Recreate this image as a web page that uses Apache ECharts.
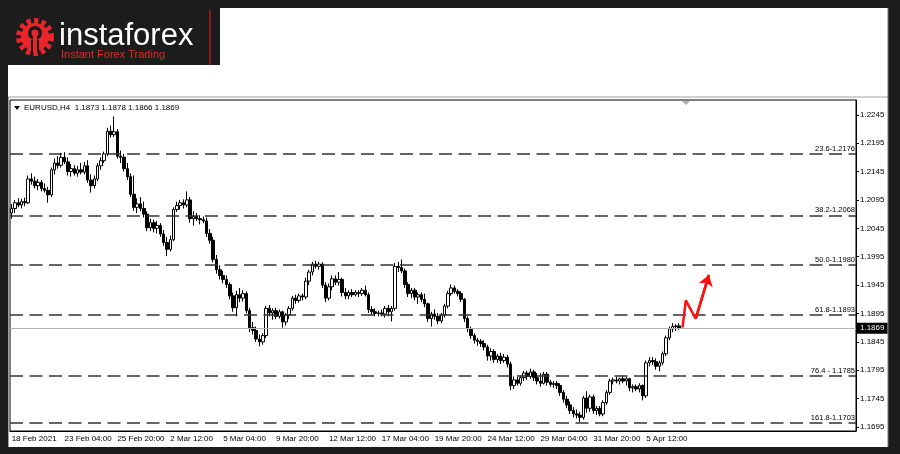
<!DOCTYPE html>
<html>
<head>
<meta charset="utf-8">
<script src="https://cdn.jsdelivr.net/npm/echarts@6/dist/echarts.min.js"></script>
<style>
html,body{margin:0;padding:0;background:#1c1c1c;}
#c{width:900px;height:454px;}
</style>
</head>
<body>
<div id="c"></div>
<script>
// ---------- data ----------
const symbolTitle = 'EURUSD,H4';
const headerQuote = ['1.1873', '1.1878', '1.1866', '1.1869'];
const timeTickLabels = ['18 Feb 2021', '23 Feb 04:00', '25 Feb 20:00', '2 Mar 12:00', '5 Mar 04:00',
  '9 Mar 20:00', '12 Mar 12:00', '17 Mar 04:00', '19 Mar 20:00', '24 Mar 12:00',
  '29 Mar 04:00', '31 Mar 20:00', '5 Apr 12:00'];
const barsPerTick = 16;
const totalSlots = 256;
const priceTicks = [1.1695, 1.1745, 1.1795, 1.1845, 1.1895, 1.1945, 1.1995, 1.2045, 1.2095, 1.2145, 1.2195, 1.2245];
const fibPrices = [1.2176, 1.2068, 1.1980, 1.1893, 1.1785, 1.1703];
const fibLabels = ['23.6-1.2176', '38.2-1.2068', '50.0-1.1980', '61.8-1.1893', '76.4 - 1.1785', '161.8-1.1703'];
const lastPrice = 1.1869;
const forecastX = [203, 204, 207, 211];
const forecastY = [1.1870, 1.1918, 1.1886, 1.1963];
// each row: open, high, low, close
const candles = [
[1.2072,1.2088,1.2062,1.2080],[1.2080,1.2095,1.2072,1.2090],[1.2090,1.2098,1.2082,1.2086],[1.2086,1.2097,1.2080,1.2092],
[1.2092,1.2099,1.2084,1.2090],[1.2090,1.2138,1.2088,1.2132],[1.2132,1.2142,1.2122,1.2128],[1.2128,1.2136,1.2115,1.2120],
[1.2120,1.2132,1.2112,1.2126],[1.2126,1.2130,1.2110,1.2115],[1.2115,1.2124,1.2108,1.2112],[1.2112,1.2118,1.2090,1.2104],
[1.2104,1.2152,1.2100,1.2148],[1.2148,1.2168,1.2140,1.2160],[1.2160,1.2172,1.2150,1.2156],[1.2156,1.2178,1.2152,1.2170],
[1.2170,1.2179,1.2158,1.2162],[1.2162,1.2170,1.2138,1.2145],[1.2145,1.2158,1.2136,1.2150],[1.2150,1.2156,1.2138,1.2142],
[1.2142,1.2155,1.2136,1.2148],[1.2148,1.2160,1.2140,1.2144],[1.2144,1.2162,1.2140,1.2155],[1.2155,1.2165,1.2125,1.2130],
[1.2130,1.2140,1.2108,1.2120],[1.2120,1.2138,1.2115,1.2132],[1.2132,1.2160,1.2128,1.2155],[1.2155,1.2170,1.2148,1.2164],
[1.2164,1.2180,1.2160,1.2176],[1.2176,1.2222,1.2172,1.2216],[1.2216,1.2226,1.2205,1.2210],[1.2210,1.2242,1.2206,1.2215],
[1.2215,1.2220,1.2168,1.2172],[1.2172,1.2182,1.2160,1.2170],[1.2170,1.2176,1.2145,1.2150],[1.2150,1.2160,1.2130,1.2136],
[1.2136,1.2142,1.2100,1.2105],[1.2105,1.2138,1.2076,1.2082],[1.2082,1.2098,1.2072,1.2088],[1.2088,1.2100,1.2075,1.2080],
[1.2080,1.2092,1.2064,1.2070],[1.2070,1.2075,1.2040,1.2046],[1.2046,1.2062,1.2040,1.2055],[1.2055,1.2060,1.2038,1.2045],
[1.2045,1.2058,1.2036,1.2050],[1.2050,1.2054,1.2030,1.2035],[1.2035,1.2042,1.2014,1.2020],[1.2020,1.2030,1.1996,1.2008],
[1.2008,1.2032,1.2004,1.2025],[1.2025,1.2082,1.2022,1.2078],[1.2078,1.2092,1.2074,1.2085],[1.2085,1.2095,1.2078,1.2090],
[1.2090,1.2096,1.2080,1.2086],[1.2086,1.2110,1.2082,1.2095],[1.2095,1.2100,1.2055,1.2062],[1.2062,1.2075,1.2050,1.2066],
[1.2066,1.2072,1.2058,1.2062],[1.2062,1.2068,1.2052,1.2060],[1.2060,1.2066,1.2054,1.2058],[1.2058,1.2064,1.2030,1.2036],
[1.2036,1.2044,1.2018,1.2024],[1.2024,1.2030,1.1985,1.1990],[1.1990,1.1998,1.1965,1.1972],[1.1972,1.1980,1.1955,1.1962],
[1.1962,1.1970,1.1948,1.1955],[1.1955,1.1962,1.1940,1.1946],[1.1946,1.1950,1.1920,1.1926],[1.1926,1.1932,1.1898,1.1905],
[1.1905,1.1935,1.1890,1.1928],[1.1928,1.1940,1.1915,1.1922],[1.1922,1.1936,1.1916,1.1930],[1.1930,1.1934,1.1895,1.1900],
[1.1900,1.1905,1.1862,1.1870],[1.1870,1.1880,1.1858,1.1865],[1.1865,1.1872,1.1845,1.1850],[1.1850,1.1858,1.1837,1.1845],
[1.1845,1.1860,1.1840,1.1856],[1.1856,1.1908,1.1852,1.1904],[1.1904,1.1910,1.1890,1.1896],[1.1896,1.1904,1.1884,1.1900],
[1.1900,1.1905,1.1885,1.1890],[1.1890,1.1902,1.1886,1.1898],[1.1898,1.1900,1.1870,1.1880],[1.1880,1.1896,1.1874,1.1892],
[1.1892,1.1908,1.1885,1.1904],[1.1904,1.1926,1.1900,1.1922],[1.1922,1.1928,1.1912,1.1918],[1.1918,1.1930,1.1914,1.1926],
[1.1926,1.1930,1.1918,1.1924],[1.1924,1.1958,1.1920,1.1952],[1.1952,1.1972,1.1945,1.1968],[1.1968,1.1986,1.1962,1.1982],
[1.1982,1.1988,1.1974,1.1978],[1.1978,1.1986,1.1972,1.1982],[1.1982,1.1985,1.1940,1.1945],[1.1945,1.1950,1.1915,1.1922],
[1.1922,1.1948,1.1918,1.1942],[1.1942,1.1962,1.1936,1.1956],[1.1956,1.1962,1.1945,1.1950],[1.1950,1.1968,1.1944,1.1955],
[1.1955,1.1958,1.1925,1.1932],[1.1932,1.1940,1.1920,1.1926],[1.1926,1.1936,1.1920,1.1932],[1.1932,1.1938,1.1924,1.1928],
[1.1928,1.1936,1.1925,1.1932],[1.1932,1.1936,1.1924,1.1930],[1.1930,1.1940,1.1926,1.1936],[1.1936,1.1944,1.1925,1.1928],
[1.1928,1.1932,1.1896,1.1902],[1.1902,1.1908,1.1892,1.1898],[1.1898,1.1904,1.1890,1.1895],[1.1895,1.1900,1.1890,1.1896],
[1.1896,1.1902,1.1890,1.1894],[1.1894,1.1908,1.1888,1.1904],[1.1904,1.1910,1.1890,1.1898],[1.1898,1.1908,1.1881,1.1904],
[1.1904,1.1984,1.1900,1.1978],[1.1978,1.1986,1.1968,1.1976],[1.1976,1.1990,1.1966,1.1970],[1.1970,1.1974,1.1940,1.1946],
[1.1946,1.1950,1.1924,1.1930],[1.1930,1.1940,1.1922,1.1936],[1.1936,1.1940,1.1918,1.1924],[1.1924,1.1932,1.1912,1.1928],
[1.1928,1.1932,1.1915,1.1920],[1.1920,1.1930,1.1906,1.1912],[1.1912,1.1914,1.1880,1.1886],[1.1886,1.1898,1.1872,1.1894],
[1.1894,1.1902,1.1884,1.1890],[1.1890,1.1896,1.1876,1.1882],[1.1882,1.1896,1.1878,1.1892],[1.1892,1.1912,1.1888,1.1908],
[1.1908,1.1935,1.1904,1.1930],[1.1930,1.1946,1.1926,1.1940],[1.1940,1.1944,1.1930,1.1934],[1.1934,1.1938,1.1925,1.1930],
[1.1930,1.1934,1.1915,1.1920],[1.1920,1.1922,1.1880,1.1886],[1.1886,1.1890,1.1862,1.1868],[1.1868,1.1872,1.1850,1.1856],
[1.1856,1.1860,1.1842,1.1848],[1.1848,1.1852,1.1838,1.1846],[1.1846,1.1850,1.1836,1.1842],[1.1842,1.1848,1.1830,1.1836],
[1.1836,1.1840,1.1812,1.1820],[1.1820,1.1834,1.1812,1.1828],[1.1828,1.1832,1.1808,1.1814],[1.1814,1.1824,1.1808,1.1820],
[1.1820,1.1826,1.1806,1.1812],[1.1812,1.1824,1.1808,1.1818],[1.1818,1.1822,1.1800,1.1806],[1.1806,1.1810,1.1760,1.1768],
[1.1768,1.1784,1.1762,1.1778],[1.1778,1.1784,1.1768,1.1772],[1.1772,1.1786,1.1768,1.1782],[1.1782,1.1794,1.1776,1.1790],
[1.1790,1.1794,1.1778,1.1784],[1.1784,1.1798,1.1780,1.1792],[1.1792,1.1796,1.1776,1.1782],[1.1782,1.1790,1.1770,1.1776],
[1.1776,1.1790,1.1766,1.1772],[1.1772,1.1792,1.1770,1.1788],[1.1788,1.1792,1.1768,1.1774],[1.1774,1.1778,1.1766,1.1770],
[1.1770,1.1776,1.1764,1.1772],[1.1772,1.1776,1.1762,1.1768],[1.1768,1.1772,1.1750,1.1756],[1.1756,1.1760,1.1738,1.1744],
[1.1744,1.1750,1.1728,1.1734],[1.1734,1.1740,1.1718,1.1724],[1.1724,1.1730,1.1712,1.1718],[1.1718,1.1726,1.1710,1.1716],
[1.1716,1.1722,1.1704,1.1712],[1.1712,1.1750,1.1708,1.1746],[1.1746,1.1758,1.1720,1.1728],[1.1728,1.1752,1.1722,1.1748],
[1.1748,1.1752,1.1718,1.1724],[1.1724,1.1732,1.1716,1.1728],[1.1728,1.1732,1.1714,1.1718],[1.1718,1.1742,1.1714,1.1738],
[1.1738,1.1760,1.1734,1.1756],[1.1756,1.1780,1.1752,1.1776],[1.1776,1.1782,1.1770,1.1778],[1.1778,1.1784,1.1772,1.1776],
[1.1776,1.1782,1.1770,1.1780],[1.1780,1.1786,1.1772,1.1776],[1.1776,1.1784,1.1768,1.1780],[1.1780,1.1782,1.1758,1.1764],
[1.1764,1.1770,1.1756,1.1766],[1.1766,1.1770,1.1758,1.1762],[1.1762,1.1772,1.1756,1.1768],[1.1768,1.1770,1.1742,1.1750],
[1.1750,1.1812,1.1746,1.1808],[1.1808,1.1818,1.1802,1.1812],[1.1812,1.1818,1.1804,1.1810],[1.1810,1.1816,1.1796,1.1802],
[1.1802,1.1812,1.1793,1.1808],[1.1808,1.1828,1.1804,1.1824],[1.1824,1.1856,1.1820,1.1852],[1.1852,1.1872,1.1848,1.1868],
[1.1868,1.1878,1.1862,1.1872],[1.1872,1.1876,1.1864,1.1873],[1.1873,1.1878,1.1866,1.1869]
];

// ---------- build ----------
const slots = Array.from({length: totalSlots}, (_, i) => String(i));
const kData = candles.map(r => [r[0], r[3], r[2], r[1]]);
const forecastData = forecastX.map((x, i) => [x, forecastY[i]]);
const isTick = idx => idx % barsPerTick === 0 && idx / barsPerTick < timeTickLabels.length;
const FONT = 'Liberation Sans';

const chart = echarts.init(document.getElementById('c'), null, {renderer: 'canvas'});
chart.setOption({
  animation: false,
  backgroundColor: '#1c1c1c',
  textStyle: {fontFamily: FONT},
  grid: {left: 10, right: 44, top: 100, bottom: 23, show: true, borderColor: '#000', borderWidth: 1, backgroundColor: '#fff'},
  xAxis: {
    type: 'category', data: slots, boundaryGap: true,
    axisLine: {lineStyle: {color: '#000', width: 1}},
    axisTick: {interval: (i) => isTick(i), alignWithLabel: true, length: 4, lineStyle: {color: '#000'}},
    axisLabel: {
      interval: (i) => isTick(i), align: 'left', margin: 4, fontSize: 8, color: '#000', fontFamily: FONT,
      formatter: (v, i) => timeTickLabels[i / barsPerTick] || ''
    },
    splitLine: {show: false}
  },
  yAxis: {
    type: 'value', position: 'right', min: 1.1688, max: 1.2271, scale: true,
    axisLine: {show: true, lineStyle: {color: '#000', width: 1}},
    axisTick: {show: true, customValues: priceTicks, length: 3, lineStyle: {color: '#000'}},
    axisLabel: {customValues: priceTicks, margin: 4, fontSize: 8, color: '#000', fontFamily: FONT,
      formatter: v => Number(v).toFixed(4)},
    splitLine: {show: false}
  },
  graphic: [
    {type: 'rect', z: -10, shape: {x: 220, y: 8, width: 668, height: 60}, style: {fill: '#fff'}},
    {type: 'rect', z: -10, shape: {x: 8, y: 65, width: 880, height: 382}, style: {fill: '#fff'}},
    {type: 'line', z: -5, shape: {x1: 8, y1: 97, x2: 888, y2: 97}, style: {stroke: '#a0a0a0', lineWidth: 1}},
    {type: 'line', z: -5, shape: {x1: 8.5, y1: 97, x2: 8.5, y2: 447}, style: {stroke: '#a0a0a0', lineWidth: 1}},
    {type: 'line', z: -5, shape: {x1: 888, y1: 8, x2: 888, y2: 447}, style: {stroke: '#777', lineWidth: 1}},
    // logo
    {type: 'circle', shape: {cx: 35, cy: 37, r: 16}, style: {fill: 'none', stroke: '#e8262a', lineWidth: 6, lineDash: [4.2, 3.2]}},
    {type: 'circle', shape: {cx: 35, cy: 37, r: 14}, style: {fill: '#e8262a'}},
    {type: 'circle', shape: {cx: 35, cy: 33, r: 7}, style: {fill: '#1c1c1c'}},
    {type: 'circle', shape: {cx: 35, cy: 33, r: 3.5}, style: {fill: '#e8262a'}},
    {type: 'rect', shape: {x: 33, y: 33, width: 4, height: 20}, style: {fill: '#e8262a'}},
    {type: 'rect', shape: {x: 31, y: 40, width: 2, height: 12}, style: {fill: '#1c1c1c'}},
    {type: 'rect', shape: {x: 37, y: 40, width: 2, height: 12}, style: {fill: '#1c1c1c'}},
    {type: 'text', x: 59, y: 36, style: {text: 'instaforex', fill: '#fff', font: '31px "Liberation Sans"', verticalAlign: 'middle'}},
    {type: 'text', x: 61, y: 55, style: {text: 'Instant Forex Trading', fill: '#e02a2a', font: '11px "Liberation Sans"', verticalAlign: 'middle'}},
    {type: 'line', shape: {x1: 210, y1: 10, x2: 210, y2: 65}, style: {stroke: '#8c1c1c', lineWidth: 2}},
    // header
    {type: 'polygon', shape: {points: [[14, 106], [20, 106], [17, 110]]}, style: {fill: '#000'}},
    {type: 'text', x: 24, y: 108, style: {text: symbolTitle + '  ' + headerQuote.join(' '), fill: '#000', font: '8px "Liberation Sans"', verticalAlign: 'middle'}},
    {type: 'polygon', shape: {points: [[682, 101], [690, 101], [686, 105]]}, style: {fill: '#b0b0b0'}}
  ],
  series: [
    {
      type: 'candlestick', data: kData, barWidth: 3,
      itemStyle: {color: '#ffffff', color0: '#000000', borderColor: '#000000', borderColor0: '#000000', borderWidth: 1},
      markLine: {
        silent: true, symbol: ['none', 'none'], animation: false, precision: 4,
        data: [
          ...fibPrices.map((p, i) => ({
            yAxis: p, name: fibLabels[i],
            lineStyle: {type: [13, 6.5], color: '#333333', width: 1.7},
            label: {show: true, position: 'insideEndTop', formatter: fibLabels[i], fontSize: 7.5, color: '#000', distance: [1, 1], fontFamily: FONT}
          })),
          {
            yAxis: lastPrice,
            lineStyle: {type: 'solid', color: '#b4b4b4', width: 1},
            label: {show: true, position: 'end', formatter: lastPrice.toFixed(4), fontSize: 8, color: '#fff',
              backgroundColor: '#000', padding: [2, 3, 1, 3], distance: 1, fontFamily: FONT}
          }
        ]
      }
    },
    {
      type: 'line', data: forecastData, symbol: 'none', z: 5,
      lineStyle: {color: '#ff1010', width: 2.5},
      markLine: {
        silent: true, symbol: ['none', 'arrow'], symbolSize: 11, precision: 4,
        lineStyle: {color: '#ff1010', width: 2.5, type: 'solid'},
        label: {show: false},
        data: [[{coord: forecastData[2]}, {coord: forecastData[3]}]]
      }
    }
  ]
});
</script>
</body>
</html>
